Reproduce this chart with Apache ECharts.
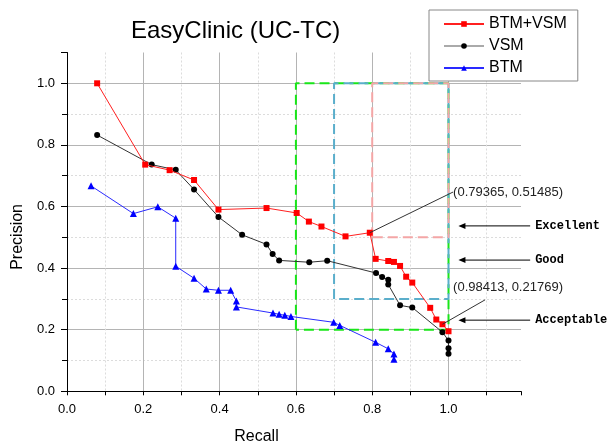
<!DOCTYPE html>
<html>
<head>
<meta charset="utf-8">
<script src="https://cdn.jsdelivr.net/npm/echarts@6/dist/echarts.min.js"></script>
<style>
html, body { margin: 0; padding: 0; background: #fff; }
#main { width: 608px; height: 443px; }
</style>
</head>
<body>
<div id="main"></div>
<script>
// BTM+VSM
var recallBV = [0.079, 0.205, 0.269, 0.333, 0.397, 0.523, 0.602, 0.634, 0.667, 0.730, 0.79365,
                0.809, 0.842, 0.857, 0.873, 0.889, 0.905, 0.952, 0.968, 0.98413, 1.0];
var precBV   = [1.0, 0.736, 0.718, 0.686, 0.590, 0.595, 0.579, 0.551, 0.535, 0.503, 0.51485,
                0.430, 0.423, 0.420, 0.407, 0.372, 0.353, 0.271, 0.233, 0.21769, 0.195];
// VSM
var recallV = [0.079, 0.222, 0.285, 0.333, 0.397, 0.459, 0.523, 0.539, 0.556, 0.635, 0.682,
               0.810, 0.826, 0.842, 0.842, 0.873, 0.905, 0.984, 1.0, 1.0, 1.0];
var precV   = [0.832, 0.736, 0.719, 0.655, 0.566, 0.508, 0.477, 0.446, 0.425, 0.419, 0.424,
               0.384, 0.371, 0.362, 0.347, 0.279, 0.272, 0.192, 0.165, 0.140, 0.122];
// BTM
var recallB = [0.063, 0.174, 0.238, 0.285, 0.285, 0.333, 0.365, 0.397, 0.429, 0.444, 0.444,
               0.540, 0.556, 0.571, 0.587, 0.699, 0.715, 0.809, 0.842, 0.857, 0.857];
var precB   = [0.667, 0.577, 0.599, 0.562, 0.406, 0.367, 0.332, 0.328, 0.328, 0.293, 0.274,
               0.254, 0.250, 0.247, 0.243, 0.224, 0.214, 0.159, 0.138, 0.121, 0.104];

var seriesNames = ['BTM+VSM', 'VSM', 'BTM'];

// quality zones: lower-left corner, upper-right corner is (1, 1)
var zoneNames  = ['Acceptable', 'Good', 'Excellent'];
var zoneRecall = [0.6, 0.7, 0.8];
var zonePrec   = [0.2, 0.3, 0.5];
var zoneArrowPrec = [0.231, 0.426, 0.537];

var xTicks = [0, 0.2, 0.4, 0.6, 0.8, 1.0];
var yTicks = [0, 0.2, 0.4, 0.6, 0.8, 1.0];

function pairs(xs, ys) {
    var out = [];
    for (var i = 0; i < xs.length; i++) out.push([xs[i], ys[i]]);
    return out;
}

function zoneRect(i) {
    var x0 = zoneRecall[i], y0 = zonePrec[i];
    return [[x0, y0], [x0, 1], [1, 1], [1, y0], [x0, y0]];
}

var dom = document.getElementById('main');
var myChart = echarts.init(dom);
var font = 'Liberation Sans, Arial, sans-serif';
var zoneColors = ['#19e619', '#5aaecb', '#f4a6a6'];

function tickLabel(v, ticks) {
    for (var i = 0; i < ticks.length; i++) {
        if (Math.abs(ticks[i] - v) < 1e-6) return v.toFixed(1);
    }
    return '';
}

var series = [];
for (var z = 0; z < zoneNames.length; z++) {
    series.push({
        name: zoneNames[z],
        type: 'line',
        data: zoneRect(z),
        symbol: 'none',
        silent: true,
        z: 1,
        lineStyle: {color: zoneColors[z], width: 2, type: [10, 5]}
    });
}
series.push({
    name: seriesNames[0], type: 'line', data: pairs(recallBV, precBV),
    symbol: 'rect', symbolSize: 6, z: 4,
    itemStyle: {color: '#ff0000'},
    lineStyle: {color: '#ff2020', width: 1}
});
series.push({
    name: seriesNames[1], type: 'line', data: pairs(recallV, precV),
    symbol: 'circle', symbolSize: 6, z: 3,
    itemStyle: {color: '#000'},
    lineStyle: {color: '#333', width: 1}
});
series.push({
    name: seriesNames[2], type: 'line', data: pairs(recallB, precB),
    symbol: 'triangle', symbolSize: 7, z: 3,
    itemStyle: {color: '#0000ff'},
    lineStyle: {color: '#2a2aff', width: 1}
});

var option = {
    animation: false,
    backgroundColor: '#fff',
    title: {
        text: 'EasyClinic (UC-TC)',
        left: 126, top: 14,
        textStyle: {fontFamily: font, fontSize: 24, fontWeight: 'normal', color: '#000'}
    },
    legend: {
        data: [
            {name: seriesNames[0]},
            {name: seriesNames[1], lineStyle: {color: '#aaa'}},
            {name: seriesNames[2]}
        ],
        orient: 'vertical',
        left: 429, top: 10,
        itemWidth: 40, itemHeight: 7, itemGap: 6,
        padding: [6, 11, 5, 14],
        borderColor: '#888', borderWidth: 1,
        backgroundColor: '#fff',
        textStyle: {fontFamily: font, fontSize: 16, color: '#000'}
    },
    grid: {left: 67, right: 87, top: 52.5, bottom: 51.7, outerBoundsMode: 'none'},
    xAxis: {
        type: 'value', min: 0, max: 1.19, interval: 0.2,
        name: 'Recall', nameLocation: 'middle', nameGap: 37,
        nameTextStyle: {fontFamily: font, fontSize: 16, color: '#000', padding: [0, 75, 0, 0]},
        axisLine: {show: true, lineStyle: {color: '#000'}},
        axisTick: {show: true, length: 4, lineStyle: {color: '#000'}},
        minorTick: {show: true, splitNumber: 2, length: 4, lineStyle: {color: '#000'}},
        axisLabel: {fontFamily: font, fontSize: 13, color: '#000', margin: 12, showMaxLabel: false,
                    formatter: function (v) { return tickLabel(v, xTicks); }},
        splitLine: {show: true, showMaxLine: false, lineStyle: {color: '#b4b4b4'}},
        minorSplitLine: {show: true, lineStyle: {color: '#dcdcdc', type: [2, 2]}}
    },
    yAxis: {
        type: 'value', min: 0, max: 1.1, interval: 0.2,
        name: 'Precision', nameLocation: 'middle', nameGap: 41,
        nameTextStyle: {fontFamily: font, fontSize: 16, color: '#000', padding: [0, 30, 0, 0]},
        axisLine: {show: true, lineStyle: {color: '#000'}},
        axisTick: {show: true, length: 6, lineStyle: {color: '#000'}},
        minorTick: {show: true, splitNumber: 2, length: 5, lineStyle: {color: '#000'}},
        axisLabel: {fontFamily: font, fontSize: 13, color: '#000', margin: 12, showMaxLabel: false,
                    formatter: function (v) { return tickLabel(v, yTicks); }},
        splitLine: {show: true, showMaxLine: false, lineStyle: {color: '#b4b4b4'}},
        minorSplitLine: {show: true, lineStyle: {color: '#dcdcdc', type: [2, 2]}}
    },
    series: series
};
myChart.setOption(option);

// annotations placed through the chart's own coordinate system
function pt(x, y) { return myChart.convertToPixel({gridIndex: 0}, [x, y]); }

var graphics = [];
function callout(ix, textAt, lineTo) {
    var p = pt(recallBV[ix], precBV[ix]);
    var e = pt(lineTo[0], lineTo[1]);
    var t = pt(textAt[0], textAt[1]);
    graphics.push({type: 'line', z: 10, shape: {x1: p[0], y1: p[1], x2: e[0], y2: e[1]},
                   style: {stroke: '#333', lineWidth: 1}});
    graphics.push({type: 'text', z: 10, x: t[0], y: t[1],
                   style: {text: '(' + recallBV[ix] + ', ' + precBV[ix] + ')',
                           font: '13px ' + font, fill: '#222',
                           textAlign: 'left', textVerticalAlign: 'middle'}});
}
callout(10, [1.012, 0.647], [1.012, 0.647]);
callout(19, [1.012, 0.336], [1.096, 0.297]);

for (var k = 0; k < zoneNames.length; k++) {
    var head = pt(1.026, zoneArrowPrec[k]);
    var tail = pt(1.214, zoneArrowPrec[k]);
    graphics.push({type: 'line', z: 10, shape: {x1: tail[0], y1: tail[1], x2: head[0] + 6, y2: head[1]},
                   style: {stroke: '#000', lineWidth: 1}});
    graphics.push({type: 'polygon', z: 10,
                   shape: {points: [[head[0], head[1]], [head[0] + 7, head[1] - 3], [head[0] + 7, head[1] + 3]]},
                   style: {fill: '#000'}});
    graphics.push({type: 'text', z: 10, x: tail[0] + 5, y: tail[1],
                   style: {text: zoneNames[k], font: 'bold 12px Liberation Mono, monospace', fill: '#000',
                           textAlign: 'left', textVerticalAlign: 'middle'}});
}
myChart.setOption({graphic: graphics});
</script>
</body>
</html>
